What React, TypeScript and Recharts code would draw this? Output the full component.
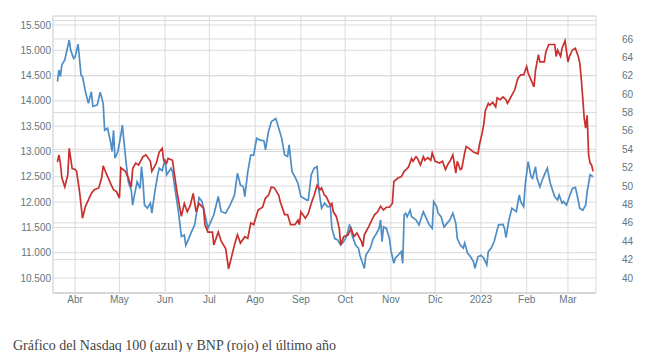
import { LineChart, Line, XAxis, YAxis, CartesianGrid, ReferenceLine } from "recharts";

// Nasdaq 100 (left axis)
const nasdaqDates = [
  "2022-03-20", "2022-03-21", "2022-03-22", "2022-03-23", "2022-03-25", "2022-03-26", "2022-03-28", "2022-03-29", "2022-03-31",
  "2022-04-01", "2022-04-03", "2022-04-05", "2022-04-06", "2022-04-08", "2022-04-10", "2022-04-12", "2022-04-13", "2022-04-16",
  "2022-04-18", "2022-04-20", "2022-04-21", "2022-04-23", "2022-04-25", "2022-04-26", "2022-04-27", "2022-04-28", "2022-04-30",
  "2022-05-02", "2022-05-03", "2022-05-05", "2022-05-07", "2022-05-09", "2022-05-10", "2022-05-11", "2022-05-13", "2022-05-15",
  "2022-05-16", "2022-05-17", "2022-05-18", "2022-05-20", "2022-05-22", "2022-05-23", "2022-05-25", "2022-05-27", "2022-05-28",
  "2022-05-30", "2022-06-01", "2022-06-02", "2022-06-05", "2022-06-06", "2022-06-08", "2022-06-10", "2022-06-12", "2022-06-14",
  "2022-06-15", "2022-06-17", "2022-06-19", "2022-06-21", "2022-06-24", "2022-06-26", "2022-06-28", "2022-06-30", "2022-07-04",
  "2022-07-07", "2022-07-09", "2022-07-12", "2022-07-15", "2022-07-18", "2022-07-20", "2022-07-22", "2022-07-24", "2022-07-25",
  "2022-07-27", "2022-07-29", "2022-07-31", "2022-08-02", "2022-08-04", "2022-08-07", "2022-08-08", "2022-08-10", "2022-08-12",
  "2022-08-15", "2022-08-17", "2022-08-19", "2022-08-21", "2022-08-23", "2022-08-24", "2022-08-26", "2022-08-28", "2022-08-30",
  "2022-09-01", "2022-09-05", "2022-09-06", "2022-09-08", "2022-09-10", "2022-09-12", "2022-09-13", "2022-09-15", "2022-09-17",
  "2022-09-19", "2022-09-21", "2022-09-22", "2022-09-24", "2022-09-26", "2022-09-28", "2022-09-30", "2022-10-02", "2022-10-04",
  "2022-10-06", "2022-10-08", "2022-10-10", "2022-10-11", "2022-10-14", "2022-10-15", "2022-10-18", "2022-10-20", "2022-10-22",
  "2022-10-24", "2022-10-25", "2022-10-26", "2022-10-27", "2022-10-29", "2022-10-31", "2022-11-01", "2022-11-03", "2022-11-04",
  "2022-11-07", "2022-11-08", "2022-11-09", "2022-11-10", "2022-11-11", "2022-11-12", "2022-11-14", "2022-11-15", "2022-11-18",
  "2022-11-20", "2022-11-23", "2022-11-25", "2022-11-27", "2022-11-29", "2022-11-30", "2022-12-02", "2022-12-03", "2022-12-05",
  "2022-12-07", "2022-12-09", "2022-12-11", "2022-12-13", "2022-12-15", "2022-12-16", "2022-12-18", "2022-12-20", "2022-12-21",
  "2022-12-23", "2022-12-25", "2022-12-27", "2022-12-28", "2022-12-30", "2023-01-01", "2023-01-03", "2023-01-05", "2023-01-06",
  "2023-01-08", "2023-01-10", "2023-01-12", "2023-01-13", "2023-01-16", "2023-01-17", "2023-01-18", "2023-01-20", "2023-01-22",
  "2023-01-25", "2023-01-27", "2023-01-28", "2023-01-30", "2023-01-31", "2023-02-02", "2023-02-04", "2023-02-05", "2023-02-07",
  "2023-02-08", "2023-02-10", "2023-02-12", "2023-02-15", "2023-02-17", "2023-02-20", "2023-02-22", "2023-02-23", "2023-02-25",
  "2023-02-26", "2023-02-28", "2023-03-02", "2023-03-04", "2023-03-06", "2023-03-07", "2023-03-09", "2023-03-11", "2023-03-13",
  "2023-03-14", "2023-03-16", "2023-03-18",
];
const nasdaqValues = [
  14380, 14610, 14480, 14710, 14810, 14940, 15200, 15000, 14840,
  14870, 15120, 14510, 14480, 14180, 13950, 14180, 13890, 13920,
  14170, 13950, 13420, 13460, 13190, 13000, 13420, 12870, 13000,
  13330, 13520, 12930, 12400, 12240, 11940, 12110, 12400, 12270,
  12700, 12400, 11940, 11880, 11980, 11780, 12200, 12540, 12670,
  12620, 12850, 12540, 12670, 12600, 12200, 11810, 11320, 11350,
  11150, 11280, 11420, 11550, 12090, 12010, 11750, 11480, 11750,
  12110, 11810, 11780, 11940, 12140, 12570, 12340, 12300, 12110,
  12600, 12930, 12930, 13260, 13230, 13210, 13030, 13390, 13590,
  13650, 13460, 13260, 12930, 12900, 13130, 12600, 12500, 12370,
  12110, 12040, 12040, 12540, 12670, 12700, 12270, 11880, 11980,
  11910, 11910, 11480, 11280, 11250, 11150, 11220, 11320, 11560,
  11320, 11150, 11090, 10950, 10690, 10950, 11090, 11280, 11370,
  11480, 11650, 11220, 11510, 11480, 11280, 11050, 10790, 10890,
  10990, 11020, 10790, 11750, 11780, 11710, 11840, 11710, 11650,
  11550, 11810, 11680, 11550, 11480, 12010, 11910, 11780, 11710,
  11510, 11580, 11650, 11780, 11580, 11280, 11150, 11090, 11190,
  10990, 10920, 10820, 10690, 10920, 10950, 10890, 10760, 11020,
  11090, 11220, 11450, 11550, 11560, 11480, 11300, 11650, 11880,
  11810, 12140, 12010, 11910, 12340, 12800, 12500, 12470, 12700,
  12470, 12300, 12470, 12670, 12370, 12110, 12040, 12140, 11980,
  12010, 11940, 12110, 12270, 12290, 12170, 11880, 11840, 11940,
  12200, 12540, 12500,
];

// BNP (right axis)
const bnpDates = [
  "2022-03-20", "2022-03-21", "2022-03-22", "2022-03-23", "2022-03-25", "2022-03-27", "2022-03-28", "2022-03-30", "2022-04-01",
  "2022-04-02", "2022-04-04", "2022-04-06", "2022-04-08", "2022-04-10", "2022-04-12", "2022-04-14", "2022-04-17", "2022-04-19",
  "2022-04-20", "2022-04-22", "2022-04-25", "2022-04-27", "2022-04-29", "2022-05-01", "2022-05-02", "2022-05-05", "2022-05-07",
  "2022-05-09", "2022-05-10", "2022-05-12", "2022-05-14", "2022-05-17", "2022-05-19", "2022-05-22", "2022-05-23", "2022-05-26",
  "2022-05-28", "2022-05-30", "2022-05-31", "2022-06-02", "2022-06-03", "2022-06-06", "2022-06-07", "2022-06-09", "2022-06-11",
  "2022-06-12", "2022-06-14", "2022-06-16", "2022-06-18", "2022-06-20", "2022-06-22", "2022-06-24", "2022-06-27", "2022-06-28",
  "2022-06-30", "2022-07-03", "2022-07-04", "2022-07-07", "2022-07-09", "2022-07-12", "2022-07-14", "2022-07-16", "2022-07-18",
  "2022-07-20", "2022-07-22", "2022-07-25", "2022-07-27", "2022-07-29", "2022-07-31", "2022-08-03", "2022-08-06", "2022-08-08",
  "2022-08-10", "2022-08-12", "2022-08-14", "2022-08-17", "2022-08-18", "2022-08-21", "2022-08-23", "2022-08-25", "2022-08-28",
  "2022-08-30", "2022-08-31", "2022-09-01", "2022-09-04", "2022-09-06", "2022-09-08", "2022-09-10", "2022-09-12", "2022-09-14",
  "2022-09-15", "2022-09-17", "2022-09-18", "2022-09-21", "2022-09-22", "2022-09-23", "2022-09-25", "2022-09-27", "2022-09-28",
  "2022-09-30", "2022-10-03", "2022-10-05", "2022-10-07", "2022-10-09", "2022-10-12", "2022-10-13", "2022-10-14", "2022-10-17",
  "2022-10-19", "2022-10-21", "2022-10-23", "2022-10-25", "2022-10-27", "2022-10-29", "2022-10-31", "2022-11-02", "2022-11-03",
  "2022-11-06", "2022-11-08", "2022-11-10", "2022-11-12", "2022-11-13", "2022-11-15", "2022-11-16", "2022-11-18", "2022-11-19",
  "2022-11-21", "2022-11-23", "2022-11-24", "2022-11-26", "2022-11-28", "2022-11-29", "2022-12-01", "2022-12-04", "2022-12-06",
  "2022-12-08", "2022-12-10", "2022-12-11", "2022-12-13", "2022-12-15", "2022-12-16", "2022-12-18", "2022-12-19", "2022-12-21",
  "2022-12-22", "2022-12-24", "2022-12-27", "2022-12-30", "2022-12-31", "2023-01-02", "2023-01-03", "2023-01-04", "2023-01-06",
  "2023-01-07", "2023-01-09", "2023-01-11", "2023-01-12", "2023-01-14", "2023-01-16", "2023-01-18", "2023-01-19", "2023-01-22",
  "2023-01-24", "2023-01-26", "2023-01-28", "2023-01-30", "2023-02-01", "2023-02-02", "2023-02-03", "2023-02-06", "2023-02-07",
  "2023-02-09", "2023-02-10", "2023-02-13", "2023-02-14", "2023-02-16", "2023-02-18", "2023-02-20", "2023-02-21", "2023-02-22",
  "2023-02-24", "2023-02-25", "2023-02-27", "2023-03-01", "2023-03-02", "2023-03-04", "2023-03-06", "2023-03-08", "2023-03-09",
  "2023-03-10", "2023-03-11", "2023-03-12", "2023-03-13", "2023-03-14", "2023-03-15", "2023-03-16", "2023-03-17", "2023-03-18",
];
const bnpValues = [
  52.6, 53.4, 52.5, 50.9, 49.9, 51.2, 54.1, 51.9, 51.8,
  51.6, 49.4, 46.5, 47.8, 48.5, 49.2, 49.6, 49.8, 50.9,
  52.2, 51.4, 50.3, 49.6, 49.4, 48.7, 52.0, 51.6, 50.9,
  49.9, 51.9, 52.5, 52.3, 53.2, 53.4, 52.7, 51.6, 52.5,
  53.7, 54.1, 52.8, 52.5, 53.0, 52.8, 51.6, 49.4, 47.6,
  46.7, 48.1, 47.2, 47.9, 49.2, 47.2, 48.1, 47.6, 45.8,
  45.0, 45.0, 43.6, 45.0, 44.0, 43.2, 41.0, 42.3, 43.6,
  44.7, 43.8, 44.5, 44.3, 46.0, 45.8, 47.4, 47.7, 48.7,
  49.0, 49.9, 49.8, 49.0, 48.3, 46.9, 46.9, 45.8, 45.8,
  46.3, 45.8, 47.2, 46.5, 47.0, 48.1, 49.0, 50.1, 49.6,
  49.8, 49.0, 48.9, 47.9, 48.1, 47.2, 46.7, 45.4, 43.6,
  44.5, 44.7, 45.4, 44.5, 44.9, 44.0, 43.4, 44.7, 45.6,
  46.3, 46.9, 47.2, 47.8, 47.4, 47.7, 47.7, 48.1, 50.5,
  50.9, 51.0, 51.6, 51.9, 52.1, 53.0, 52.7, 53.2, 53.0,
  52.3, 53.2, 52.8, 53.1, 52.8, 53.6, 52.7, 52.5, 52.7,
  51.8, 52.5, 52.7, 53.4, 51.4, 52.7, 51.8, 51.9, 53.6,
  54.3, 54.1, 53.7, 53.5, 54.5, 55.9, 56.8, 58.2, 59.0,
  58.8, 59.1, 58.6, 59.6, 59.4, 59.7, 59.4, 59.0, 59.9,
  60.5, 61.7, 62.1, 62.1, 63.0, 62.3, 61.9, 60.8, 62.6,
  64.3, 63.5, 63.5, 64.6, 65.4, 65.4, 65.4, 64.1, 64.8,
  64.1, 65.0, 65.8, 63.5, 64.1, 64.8, 65.0, 64.1, 63.4,
  61.7, 59.6, 57.4, 56.3, 57.7, 53.4, 52.5, 52.3, 51.6,
];

const monthTicks = [
  "2022-04-01", "2022-05-01", "2022-06-01", "2022-07-01", "2022-08-01", "2022-09-01",
  "2022-10-01", "2022-11-01", "2022-12-01", "2023-01-01", "2023-02-01", "2023-03-01",
];
const monthLabels = ["Abr", "May", "Jun", "Jul", "Ago", "Sep", "Oct", "Nov", "Dic", "2023", "Feb", "Mar"];
const nasdaqTicks = [10500, 11000, 11500, 12000, 12500, 13000, 13500, 14000, 14500, 15000, 15500];
const bnpTicks = [40, 42, 44, 46, 48, 50, 52, 54, 56, 58, 60, 62, 64, 66];

const toTime = (d: string) => Date.parse(d + "T00:00:00Z");

const nasdaqData = nasdaqDates.map((d, i) => ({ t: toTime(d), v: nasdaqValues[i] }));
const bnpData = bnpDates.map((d, i) => ({ t: toTime(d), v: bnpValues[i] }));
const xTicks = monthTicks.map(toTime);

const fmtThousands = (v: number) => `${Math.floor(v / 1000)}.${String(v % 1000).padStart(3, "0")}`;

const tickStyle = { fill: "#627680", fontSize: 10, fontFamily: "'Liberation Sans', Arial, sans-serif" };
const gridColor = "#dadada";

export default function App() {
  return (
    <div style={{ position: "relative", width: 640, height: 344 }}>
      <LineChart width={640} height={300} margin={{ top: 8, right: 0, bottom: 0, left: 0 }}>
        <CartesianGrid yAxisId="left" stroke={gridColor} strokeWidth={1} />
        <CartesianGrid yAxisId="right" stroke={gridColor} strokeWidth={1} vertical={false} />
        <XAxis
          dataKey="t"
          type="number"
          domain={[toTime("2022-03-17"), toTime("2023-03-20")]}
          ticks={xTicks}
          tickFormatter={(v: number) => monthLabels[xTicks.indexOf(v)] ?? ""}
          tick={tickStyle}
          tickLine={false}
          tickSize={0}
          tickMargin={3}
          axisLine={{ stroke: "#cccccc" }}
          height={15}
          allowDataOverflow
        />
        <YAxis
          yAxisId="left"
          orientation="left"
          domain={[10204, 15677]}
          ticks={nasdaqTicks}
          tickFormatter={fmtThousands}
          tick={tickStyle}
          tickLine={false}
          tickSize={0}
          tickMargin={2}
          axisLine={{ stroke: gridColor }}
          width={45}
          allowDataOverflow
        />
        <YAxis
          yAxisId="right"
          orientation="right"
          domain={[38.37, 68.5]}
          ticks={bnpTicks}
          tick={tickStyle}
          tickLine={false}
          tickSize={0}
          tickMargin={26}
          axisLine={false}
          width={52}
          allowDataOverflow
        />
        <ReferenceLine yAxisId="right" y={68} stroke={gridColor} />
        <Line
          yAxisId="left"
          data={nasdaqData}
          dataKey="v"
          type="linear"
          stroke="#4e8dc6"
          strokeWidth={1.7}
          dot={false}
          isAnimationActive={false}
        />
        <Line
          yAxisId="right"
          data={bnpData}
          dataKey="v"
          type="linear"
          stroke="#c8302e"
          strokeWidth={1.7}
          dot={false}
          isAnimationActive={false}
        />
      </LineChart>
      <div
        style={{
          position: "absolute",
          left: 5,
          top: 330,
          fontFamily: "'Liberation Serif', 'Times New Roman', serif",
          fontSize: 14,
          lineHeight: "16px",
          color: "#444444",
          whiteSpace: "nowrap",
        }}
      >
        Gráfico del Nasdaq 100 (azul) y BNP (rojo) el último año
      </div>
    </div>
  );
}
